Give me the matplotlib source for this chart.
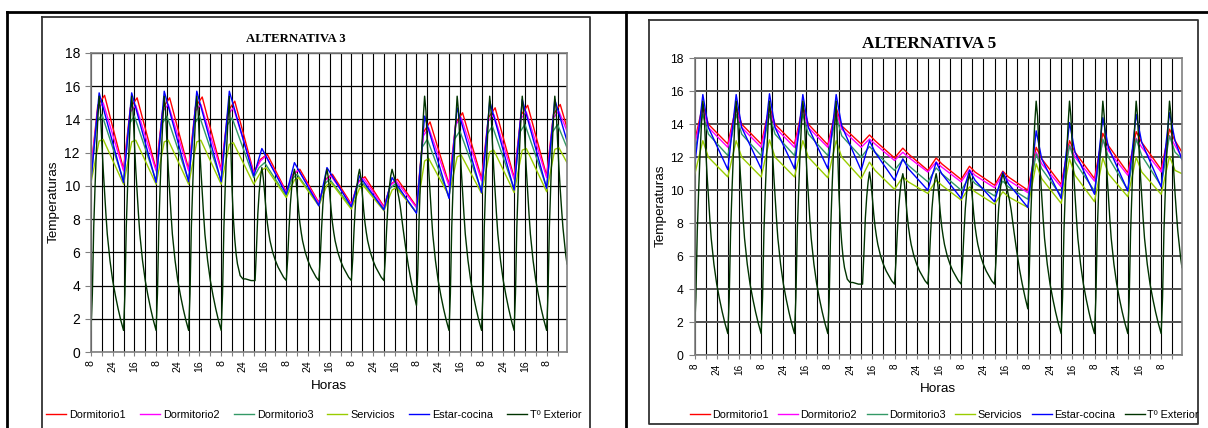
import numpy as np
import matplotlib
matplotlib.use("Agg")
import matplotlib.pyplot as plt
from matplotlib.lines import Line2D

plt.rcParams['font.family'] = 'Liberation Sans'

W, H = 1208, 428
N_HORAS = 352          # datos horarios, el primero a las 8 h
HORA_INICIO = 8

series_nombres = ['Dormitorio1', 'Dormitorio2', 'Dormitorio3', 'Servicios', 'Estar-cocina', 'Tº Exterior']
series_colores = ['#FF0000', '#FF00FF', '#339966', '#99CC00', '#0000FF', '#003300']

# ---- Tº exterior (igual en las dos alternativas), valores por dia a estas horas desde las 8 h
ext_offs = [0, 1, 2, 3, 4, 5, 6, 7, 8, 9, 10, 11, 12, 14, 16, 18, 20, 22]
ext_dias = [
    [1.3, 3.5, 7.5, 10.0, 12.2, 14.0, 15.4, 14.5, 12.6, 11.0, 9.6, 8.3, 7.1, 5.5, 4.3, 3.4, 2.6, 1.9],
    [1.3, 3.5, 7.5, 10.0, 12.2, 14.0, 15.4, 14.5, 12.6, 11.0, 9.6, 8.3, 7.1, 5.5, 4.3, 3.4, 2.6, 1.9],
    [1.3, 3.5, 7.5, 10.0, 12.2, 14.0, 15.4, 14.5, 12.6, 11.0, 9.6, 8.3, 7.1, 5.5, 4.3, 3.4, 2.6, 1.9],
    [1.3, 3.5, 7.5, 10.0, 12.2, 14.0, 15.4, 14.5, 12.6, 11.0, 9.6, 8.3, 7.1, 5.5, 4.3, 3.4, 2.6, 1.9],
    [1.3, 3.5, 7.5, 10.0, 12.2, 14.0, 15.4, 12.6, 9.8, 8.0, 6.8, 5.9, 5.3, 4.6, 4.4, 4.4, 4.35, 4.3],
    [4.3, 4.3, 6.2, 8.3, 9.6, 10.5, 11.1, 10.5, 9.6, 8.6, 7.8, 7.2, 6.7, 6.0, 5.5, 5.1, 4.8, 4.5],
    [4.3, 5.6, 7.4, 8.9, 9.9, 10.6, 11.0, 10.5, 9.6, 8.6, 7.8, 7.2, 6.7, 6.0, 5.5, 5.1, 4.8, 4.5],
    [4.3, 5.6, 7.4, 8.9, 9.9, 10.6, 11.0, 10.5, 9.6, 8.6, 7.8, 7.2, 6.7, 6.0, 5.5, 5.1, 4.8, 4.5],
    [4.3, 5.6, 7.4, 8.9, 9.9, 10.6, 11.0, 10.5, 9.6, 8.6, 7.8, 7.2, 6.7, 6.0, 5.5, 5.1, 4.8, 4.5],
    [4.3, 5.6, 7.4, 8.9, 9.9, 10.6, 11.0, 10.7, 10.4, 10.1, 9.7, 9.3, 8.8, 7.5, 6.3, 5.2, 4.3, 3.5],
    [2.8, 4.9, 8.2, 10.4, 12.4, 14.1, 15.4, 14.5, 12.6, 11.0, 9.6, 8.3, 7.1, 5.5, 4.3, 3.4, 2.6, 1.9],
    [1.3, 3.5, 7.5, 10.0, 12.2, 14.0, 15.4, 14.5, 12.6, 11.0, 9.6, 8.3, 7.1, 5.5, 4.3, 3.4, 2.6, 1.9],
    [1.3, 3.5, 7.5, 10.0, 12.2, 14.0, 15.4, 14.5, 12.6, 11.0, 9.6, 8.3, 7.1, 5.5, 4.3, 3.4, 2.6, 1.9],
    [1.3, 3.5, 7.5, 10.0, 12.2, 14.0, 15.4, 14.5, 12.6, 11.0, 9.6, 8.3, 7.1, 5.5, 4.3, 3.4, 2.6, 1.9],
    [1.3, 3.5, 7.5, 10.0, 12.2, 14.0, 15.4, 14.6, 12.8, 11.2, 9.8, 8.6, 7.5, 5.9, 4.6, 3.6, 2.8, 2.0],
]
ext_final = 5.3

# ---- ALTERNATIVA 3: por dia [minimo, hombro, maximo]
a3_dorm1_offs = [0, 5, 10]
a3_dorm1 = [[11.0, 14.85, 15.45], [11.0, 14.7, 15.3], [11.0, 14.7, 15.3], [11.0, 14.75, 15.35], [11.0, 14.5, 15.1],
            [10.8, 11.6, 11.9], [9.65, 10.7, 11.0], [9.0, 10.4, 10.7], [8.9, 10.25, 10.55], [8.75, 10.1, 10.4],
            [8.75, 13.2, 13.85], [10.1, 13.8, 14.4], [10.45, 14.1, 14.7], [10.5, 14.25, 14.85], [10.6, 14.3, 14.9]]
a3_dorm1_final = 13.5

a3_dorm2_offs = [0, 5, 9]
a3_dorm2 = [[11.0, 14.6, 15.0], [10.9, 14.45, 14.85], [10.9, 14.5, 14.9], [10.9, 14.5, 14.9], [10.9, 14.3, 14.7],
            [10.75, 11.5, 11.8], [9.6, 10.7, 10.95], [8.95, 10.35, 10.6], [8.85, 10.2, 10.45], [8.7, 10.05, 10.3],
            [8.7, 13.0, 13.5], [10.0, 13.7, 14.1], [10.3, 13.9, 14.3], [10.4, 14.05, 14.45], [10.5, 14.1, 14.5]]
a3_dorm2_final = 13.3

a3_dorm3_offs = [0, 4, 8]
a3_dorm3 = [[10.3, 13.8, 14.3], [10.3, 13.7, 14.2], [10.3, 13.7, 14.2], [10.3, 13.7, 14.2], [10.3, 13.6, 14.1],
            [10.5, 11.1, 11.4], [9.4, 10.4, 10.7], [8.85, 10.1, 10.4], [8.7, 9.9, 10.2], [8.6, 9.8, 10.1],
            [8.4, 12.3, 12.8], [9.3, 12.8, 13.3], [9.7, 13.1, 13.6], [9.8, 13.2, 13.7], [9.9, 13.2, 13.7]]
a3_dorm3_final = 12.3

a3_serv_offs = [0, 6, 9]
a3_serv = [[10.2, 12.7, 12.8], [10.1, 12.65, 12.75], [10.1, 12.65, 12.75], [10.1, 12.65, 12.75], [10.1, 12.5, 12.6],
           [10.1, 10.95, 11.1], [9.3, 10.35, 10.5], [8.8, 10.05, 10.2], [8.6, 9.85, 10.0], [8.5, 9.75, 9.9],
           [8.4, 11.5, 11.65], [9.4, 11.75, 11.85], [9.55, 12.05, 12.15], [9.6, 12.15, 12.25], [9.65, 12.2, 12.3]]
a3_serv_final = 11.4

a3_estar_offs = [0, 6]
a3_estar = [[10.3, 15.6], [10.2, 15.6], [10.2, 15.7], [10.25, 15.7], [10.25, 15.7],
            [10.6, 12.25], [9.5, 11.4], [8.8, 11.1], [8.75, 10.6], [8.55, 10.5],
            [8.35, 14.2], [9.25, 14.7], [9.6, 15.1], [9.75, 15.2], [9.85, 15.2]]
a3_estar_final = 12.7

# ---- ALTERNATIVA 5: por dia [minimo, maximo, codo tras el maximo]
a5_offs = [0, 6, 10]
a5_dorm1 = [[12.9, 15.2, 14.0], [12.8, 15.1, 14.0], [12.8, 15.1, 14.0], [12.8, 15.1, 14.0], [12.75, 15.0, 13.9],
            [12.8, 13.35, 13.0], [11.95, 12.55, 12.2], [11.2, 11.95, 11.6], [10.65, 11.45, 11.1], [10.3, 11.15, 10.8],
            [10.0, 12.6, 11.9], [10.35, 13.0, 12.3], [10.7, 13.45, 12.7], [11.05, 13.55, 12.9], [11.25, 13.7, 13.0]]
a5_dorm1_final = 12.3

a5_dorm2 = [[12.7, 14.95, 13.8], [12.6, 14.9, 13.8], [12.6, 14.9, 13.8], [12.6, 14.9, 13.8], [12.6, 14.8, 13.7],
            [12.6, 13.1, 12.8], [11.8, 12.3, 12.0], [11.1, 11.7, 11.4], [10.5, 11.25, 10.9], [10.15, 10.95, 10.6],
            [9.85, 12.3, 11.6], [10.2, 12.75, 12.0], [10.55, 13.0, 12.4], [10.9, 13.15, 12.6], [11.1, 13.3, 12.7]]
a5_dorm2_final = 12.0

a5_dorm3 = [[12.3, 14.6, 13.4], [12.1, 14.6, 13.4], [12.1, 14.6, 13.4], [12.1, 14.6, 13.4], [12.1, 14.5, 13.3],
            [12.0, 12.65, 12.3], [11.2, 11.85, 11.5], [10.5, 11.35, 11.0], [10.0, 10.8, 10.4], [9.65, 10.55, 10.2],
            [9.45, 12.2, 11.3], [9.65, 12.7, 11.7], [9.95, 13.1, 12.0], [10.0, 13.1, 12.1], [10.25, 13.3, 12.3]]
a5_dorm3_final = 11.9

a5_serv = [[10.9, 13.0, 12.0], [10.8, 13.0, 12.0], [10.8, 13.05, 12.0], [10.8, 13.0, 12.0], [10.75, 13.0, 12.0],
           [10.7, 11.7, 11.2], [10.05, 10.8, 10.5], [9.8, 10.6, 10.3], [9.4, 10.2, 9.9], [9.15, 9.9, 9.6],
           [8.95, 11.6, 10.7], [9.2, 11.9, 10.9], [9.3, 11.95, 11.0], [9.6, 12.0, 11.1], [9.75, 12.05, 11.2]]
a5_serv_final = 11.0

a5_estar = [[11.4, 15.8, 13.8], [11.25, 15.8, 13.8], [11.3, 15.85, 13.8], [11.3, 15.8, 13.8], [11.3, 15.8, 13.9],
            [11.2, 13.0, 12.3], [10.6, 11.9, 11.3], [10.0, 11.7, 11.0], [9.5, 11.2, 10.6], [9.3, 11.1, 10.4],
            [8.95, 13.6, 11.9], [9.5, 14.1, 12.3], [9.75, 14.4, 12.6], [9.95, 14.6, 12.9], [10.2, 14.7, 13.0]]
a5_estar_final = 11.85


def expandir(offs, dias, final):
    x, y = [], []
    for d, fila in enumerate(dias):
        for o, v in zip(offs, fila):
            h = 24 * d + o
            if h < N_HORAS - 1:
                x.append(h)
                y.append(v)
    x.append(N_HORAS - 1)
    y.append(final)
    return x, y


def fx(px):
    return px / W


def fy(py):
    return 1 - py / H


ext_x, ext_y = expandir(ext_offs, ext_dias, ext_final)

datos3 = [expandir(a3_dorm1_offs, a3_dorm1, a3_dorm1_final),
          expandir(a3_dorm2_offs, a3_dorm2, a3_dorm2_final),
          expandir(a3_dorm3_offs, a3_dorm3, a3_dorm3_final),
          expandir(a3_serv_offs, a3_serv, a3_serv_final),
          expandir(a3_estar_offs, a3_estar, a3_estar_final),
          (ext_x, ext_y)]
datos5 = [expandir(a5_offs, a5_dorm1, a5_dorm1_final),
          expandir(a5_offs, a5_dorm2, a5_dorm2_final),
          expandir(a5_offs, a5_dorm3, a5_dorm3_final),
          expandir(a5_offs, a5_serv, a5_serv_final),
          expandir(a5_offs, a5_estar, a5_estar_final),
          (ext_x, ext_y)]

fig = plt.figure(figsize=(W / 100, H / 100), dpi=100)

# marco de la tabla
for xs, ys in [((7, W), (12, 12)), ((7, 7), (12, H)), ((626, 626), (12, H))]:
    fig.add_artist(Line2D([fx(v) for v in xs], [fy(v) for v in ys], color='black', lw=2.0))
# marcos de los graficos
for x0, y0, x1, y1 in [(42, 17, 590, H + 5), (649, 20, 1198, 424)]:
    fig.add_artist(Line2D([fx(x0), fx(x1), fx(x1), fx(x0), fx(x0)],
                          [fy(y0), fy(y0), fy(y1), fy(y1), fy(y0)], color='#333333', lw=1.3))


def dibujar(ax, datos, ytick_fs, xtick_fs, hgrid_color, hgrid_lw):
    for (x, y), nombre, color in zip(datos, series_nombres, series_colores):
        ax.plot(x, y, color=color, lw=1.0, label=nombre)
    ax.set_xlim(0, N_HORAS - 1)
    ax.set_ylim(0, 18)
    ax.set_yticks(range(0, 19, 2))
    ticks = np.arange(0, N_HORAS, 8)
    ax.set_xticks(ticks)
    ax.set_xticklabels([str((HORA_INICIO + t - 1) % 24 + 1) if t % 16 == 0 else '' for t in ticks],
                       rotation=90, fontsize=xtick_fs)
    ax.tick_params(axis='y', labelsize=ytick_fs, length=4, pad=4, color='#808080')
    ax.tick_params(axis='x', length=3, pad=3, color='#808080')
    ax.xaxis.grid(True, color='black', lw=0.8)
    ax.yaxis.grid(True, color=hgrid_color, lw=hgrid_lw)
    ax.set_axisbelow(True)
    for s in ax.spines.values():
        s.set_color('#808080')
        s.set_linewidth(1.2)


ax3 = fig.add_axes([fx(91), fy(352), (567 - 91) / W, (352 - 53) / H])
dibujar(ax3, datos3, 10, 7.6, 'black', 0.9)
ax5 = fig.add_axes([fx(694.5), fy(355), (1182 - 694.5) / W, (355 - 58.3) / H])
dibujar(ax5, datos5, 8.7, 7.2, '#505050', 1.4)

fig.text(fx(296), fy(39), 'ALTERNATIVA 3', family='Liberation Serif', weight='bold', fontsize=9.2,
         ha='center', va='center')
fig.text(fx(929.5), fy(44), 'ALTERNATIVA 5', family='Liberation Serif', weight='bold', fontsize=12.4,
         ha='center', va='center')

fig.text(fx(54), fy(202), 'Temperaturas', rotation=90, fontsize=9.7, ha='center', va='center')
fig.text(fx(661), fy(206), 'Temperaturas', rotation=90, fontsize=9.7, ha='center', va='center')
fig.text(fx(329), fy(386), 'Horas', fontsize=9.7, ha='center', va='center')
fig.text(fx(938), fy(389), 'Horas', fontsize=9.7, ha='center', va='center')

h3, l3 = ax3.get_legend_handles_labels()
fig.legend(h3, l3, loc='center', bbox_to_anchor=(fx(314), fy(415)), ncol=6, frameon=False,
           fontsize=7.8, handlelength=1.85, handletextpad=0.28, columnspacing=1.3, borderpad=0)
h5, l5 = ax5.get_legend_handles_labels()
fig.legend(h5, l5, loc='center', bbox_to_anchor=(fx(944), fy(415)), ncol=6, frameon=False,
           fontsize=7.8, handlelength=1.85, handletextpad=0.2, columnspacing=0.9, borderpad=0)

fig.savefig('out.png', dpi=100)
